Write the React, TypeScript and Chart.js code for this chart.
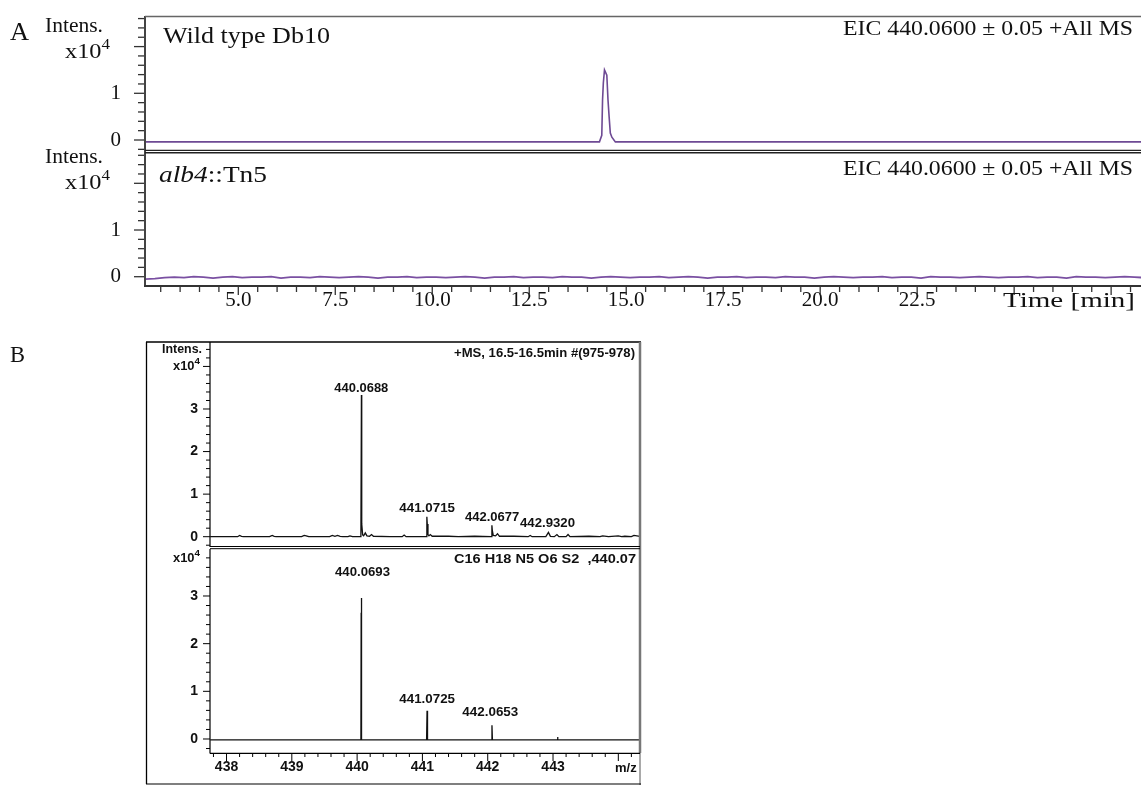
import React, { useEffect, useRef } from 'react';
import { Chart, registerables } from 'chart.js';
Chart.register(...registerables);

// ---------------- Data ----------------
// Panel A, top: EIC of wild type Db10 (intensity x10^4 vs time, min)
const A_WT_TIME = [2.6, 14.31, 14.37, 14.39, 14.41, 14.44, 14.5, 14.53, 14.56, 14.59, 14.63, 14.72, 28.3];
const A_WT_INTENS = [-0.04, -0.04, 0.1, 0.86, 1.22, 1.5, 1.39, 0.86, 0.49, 0.15, 0.06, -0.04, -0.04];

// Panel A, bottom: EIC of alb4::Tn5 (flat noisy baseline), sampled every 0.25 min from 2.6 min
const A_MUT_START = 2.6;
const A_MUT_STEP = 0.25;
const A_MUT_INTENS = [
  -0.05, -0.04, -0.02, -0.01, -0.02, 0.0, -0.01, -0.03, -0.01, 0.0,
  -0.02, -0.01, -0.01, 0.0, -0.03, -0.01, -0.01, -0.02, 0.0, -0.01,
  -0.02, -0.01, 0.0, -0.01, -0.03, -0.01, -0.01, 0.0, -0.02, -0.01,
  -0.01, -0.02, -0.01, 0.0, -0.01, -0.03, -0.01, -0.01, 0.0, -0.02,
  -0.01, -0.01, -0.02, 0.0, -0.01, -0.01, -0.03, -0.01, 0.0, -0.01,
  -0.02, -0.01, -0.01, 0.0, -0.02, -0.01, 0.0, -0.01, -0.03, -0.01,
  -0.01, 0.0, -0.02, -0.01, -0.01, -0.02, 0.0, -0.01, -0.01, -0.03,
  -0.01, 0.0, -0.01, -0.02, -0.01, -0.01, 0.0, -0.02, -0.01, -0.01,
  -0.03, 0.0, -0.01, -0.01, -0.02, -0.01, 0.0, -0.01, -0.02, -0.01,
  -0.01, 0.0, -0.02, -0.01, -0.01, -0.03, 0.0, -0.01, -0.01, -0.02,
  -0.01, 0.0, -0.01, -0.02,
];

const A_TIME_TICKS = [5.0, 7.5, 10.0, 12.5, 15.0, 17.5, 20.0, 22.5];
const A_INTENS_TICKS = [0, 1];

// Panel B, top: measured MS spectrum (m/z, intensity x10^4)
const B_MS_MZ = [437.75, 438.17, 438.2, 438.23, 438.26, 438.66, 438.7, 438.73, 438.76, 439.15, 439.19, 439.22, 439.26, 439.58, 439.62, 439.66, 439.7, 439.74, 439.78, 439.86, 439.89, 439.93, 440.058, 440.066, 440.069, 440.072, 440.085, 440.1, 440.125, 440.15, 440.19, 440.22, 440.25, 440.5, 440.69, 440.72, 440.75, 441.058, 441.068, 441.074, 441.085, 441.1, 441.12, 441.15, 441.4, 441.55, 441.8, 442.055, 442.064, 442.07, 442.085, 442.12, 442.15, 442.18, 442.4, 442.62, 442.65, 442.68, 442.89, 442.93, 442.96, 443.02, 443.06, 443.09, 443.2, 443.23, 443.26, 443.55, 443.72, 443.76, 443.85, 444.0, 444.05, 444.1, 444.2, 444.24, 444.33];
const B_MS_INT = [0, 0, 0.03, 0.01, 0, 0, 0.03, 0.01, 0, 0, 0.03, 0.02, 0, 0, 0.03, 0.01, 0.03, 0.01, 0, 0, 0.02, 0, 0, 3.33, 1.9, 0.3, 0.04, 0.02, 0.09, 0.02, 0.01, 0.05, 0.01, 0, 0, 0.04, 0, 0, 0.47, 0.3, 0.05, 0.02, 0.05, 0.01, 0.01, 0, 0.01, 0, 0.27, 0.15, 0.03, 0.02, 0.07, 0.01, 0.01, 0, 0.03, 0, 0, 0.1, 0.01, 0, 0.05, 0, 0, 0.05, 0, 0.01, 0, 0.02, 0, 0.02, 0, 0.01, 0, 0.03, 0.01];

// Panel B, bottom: simulated isotope pattern C16H18N5O6S2
const B_SIM_MZ = [437.75, 440.058, 440.062, 440.064, 440.067, 440.071, 441.064, 441.071, 441.078, 442.058, 442.065, 442.072, 443.062, 443.069, 443.076, 444.33];
const B_SIM_INT = [-0.02, -0.02, 2.65, 0.3, 2.96, -0.02, -0.02, 0.59, -0.02, -0.02, 0.29, -0.02, -0.02, 0.04, -0.02, -0.02];

const B_MZ_TICKS = [438, 439, 440, 441, 442, 443];
const B_INTENS_TICKS = [0, 1, 2, 3];

// ---------------- Styling helpers ----------------
const SERIF = "'Liberation Serif', 'Times New Roman', serif";
const SANS = "'Liberation Sans', Arial, sans-serif";

type Seg = { t: string; font: string; dy?: number };
type TextItem = { x: number; y: number; segs: Seg[]; width?: number; color?: string };
type LineItem = { x1: number; y1: number; x2: number; y2: number; color: string; w: number };
type TickSpec = { axis: 'x' | 'y'; step: number; majorEvery: number; majorLen: number; minorLen: number; color: string; w: number };

function makeDeco(ox: number, oy: number, lines: LineItem[], texts: TextItem[], ticks: TickSpec[]) {
  return {
    id: 'deco',
    afterDraw(chart: any) {
      const ctx: CanvasRenderingContext2D = chart.ctx;
      const area = chart.chartArea;
      ctx.save();
      for (const t of ticks) {
        const scale = chart.scales[t.axis];
        const start = Math.ceil(scale.min / t.step - 1e-6);
        const end = Math.floor(scale.max / t.step + 1e-6);
        ctx.strokeStyle = t.color;
        ctx.lineWidth = t.w;
        for (let i = start; i <= end; i++) {
          const v = i * t.step;
          const major = i % t.majorEvery === 0;
          const len = major ? t.majorLen : t.minorLen;
          const p = scale.getPixelForValue(v);
          ctx.beginPath();
          if (t.axis === 'y') {
            ctx.moveTo(area.left - len, p);
            ctx.lineTo(area.left, p);
          } else {
            ctx.moveTo(p, area.bottom);
            ctx.lineTo(p, area.bottom + len);
          }
          ctx.stroke();
        }
      }
      for (const l of lines) {
        ctx.strokeStyle = l.color;
        ctx.lineWidth = l.w;
        ctx.beginPath();
        ctx.moveTo(l.x1 - ox, l.y1 - oy);
        ctx.lineTo(l.x2 - ox, l.y2 - oy);
        ctx.stroke();
      }
      for (const it of texts) {
        let total = 0;
        const ws = it.segs.map((s) => {
          ctx.font = s.font;
          const w = ctx.measureText(s.t).width;
          total += w;
          return w;
        });
        const sx = it.width ? it.width / total : 1;
        ctx.save();
        ctx.translate(it.x - ox, it.y - oy);
        ctx.scale(sx, 1);
        ctx.fillStyle = it.color || '#111';
        ctx.textBaseline = 'alphabetic';
        ctx.textAlign = 'left';
        let cx = 0;
        it.segs.forEach((s, i) => {
          ctx.font = s.font;
          ctx.fillText(s.t, cx, s.dy || 0);
          cx += ws[i];
        });
        ctx.restore();
      }
      ctx.restore();
    },
  };
}

function yScale(min: number, max: number, ticks: number[], font: any, padding: number, width: number) {
  return {
    type: 'linear',
    position: 'left',
    min,
    max,
    grid: { display: false, drawTicks: false },
    border: { display: false },
    ticks: { font, color: '#111', padding, autoSkip: false, callback: (v: any) => String(v) },
    afterBuildTicks: (s: any) => {
      s.ticks = ticks.map((v) => ({ value: v }));
    },
    afterFit: (s: any) => {
      s.width = width;
      s.paddingTop = 0;
      s.paddingBottom = 0;
      s.paddingLeft = 0;
      s.paddingRight = 0;
    },
  };
}

function xScale(min: number, max: number, ticks: number[], font: any, padding: number, height: number, show: boolean, fmt: (v: number) => string) {
  return {
    type: 'linear',
    position: 'bottom',
    display: show,
    min,
    max,
    grid: { display: false, drawTicks: false },
    border: { display: false },
    ticks: { font, color: '#111', padding, autoSkip: false, maxRotation: 0, minRotation: 0, callback: (v: any) => fmt(Number(v)) },
    afterBuildTicks: (s: any) => {
      s.ticks = ticks.map((v) => ({ value: v }));
    },
    afterFit: (s: any) => {
      s.height = height;
      s.paddingLeft = 0;
      s.paddingRight = 0;
      s.paddingTop = 0;
      s.paddingBottom = 0;
    },
  };
}

function lineDataset(xs: number[], ys: number[], color: string, w: number) {
  return {
    data: xs.map((x, i) => ({ x, y: ys[i] })),
    borderColor: color,
    borderWidth: w,
    pointRadius: 0,
    tension: 0,
    fill: false,
  };
}

const baseOptions = {
  animation: false,
  responsive: false,
  maintainAspectRatio: false,
  devicePixelRatio: 1,
  events: [],
  plugins: { legend: { display: false }, tooltip: { enabled: false } },
};

// A-axis ranges
const A_XMIN = 2.595;
const A_XMAX = 28.27;
const fontA = { family: SERIF, size: 21 };
const fontB = { family: SANS, size: 14, weight: 'bold' };

const aLabel = (y: number, x: number, t: string, size: number, width: number): TextItem => ({ x, y, segs: [{ t, font: `${size}px ${SERIF}` }], width });
const x104A = (y: number): TextItem => ({ x: 65, y, segs: [{ t: 'x10', font: `20px ${SERIF}` }, { t: '4', font: `14px ${SERIF}`, dy: -9 }], width: 45 });
const bLabel = (x: number, y: number, t: string, width: number): TextItem => ({ x, y, segs: [{ t, font: `bold 13.5px ${SANS}` }], width });
const x104B = (y: number): TextItem => ({ x: 173, y, segs: [{ t: 'x10', font: `bold 12.5px ${SANS}` }, { t: '4', font: `bold 9.5px ${SANS}`, dy: -6 }], width: 27 });

const tickAy: TickSpec = { axis: 'y', step: 0.2, majorEvery: 5, majorLen: 11, minorLen: 7, color: '#333', w: 1.3 };
const tickAx: TickSpec = { axis: 'x', step: 0.5, majorEvery: 5, majorLen: 9, minorLen: 6, color: '#333', w: 1.3 };
const tickBy: TickSpec = { axis: 'y', step: 0.2, majorEvery: 5, majorLen: 7, minorLen: 4, color: '#000', w: 1 };
const tickBx: TickSpec = { axis: 'x', step: 0.2, majorEvery: 5, majorLen: 8, minorLen: 4, color: '#000', w: 1 };

function cfgA1() {
  return {
    type: 'line',
    data: { datasets: [lineDataset(A_WT_TIME, A_WT_INTENS, '#6e4a94', 1.6)] },
    options: {
      ...baseOptions,
      layout: { padding: { top: 16, left: 0, right: 0, bottom: 0 } },
      scales: {
        x: xScale(A_XMIN, A_XMAX, A_TIME_TICKS, fontA, 2, 0, false, (v) => v.toFixed(1)),
        y: yScale(-0.2355, 2.655, A_INTENS_TICKS, fontA, 24, 145),
      },
    },
    plugins: [
      makeDeco(0, 0, [
        { x1: 145, y1: 16, x2: 145, y2: 151, color: '#444', w: 2 },
        { x1: 145, y1: 16.5, x2: 1141, y2: 16.5, color: '#666', w: 1.5 },
        { x1: 145, y1: 150.5, x2: 1141, y2: 150.5, color: '#222', w: 1.5 },
      ], [
        aLabel(40, 10, 'A', 25, 19),
        aLabel(31.5, 45, 'Intens.', 20, 58),
        x104A(58),
        aLabel(42.5, 163, 'Wild type Db10', 23, 167),
        aLabel(35, 843, 'EIC 440.0600 \u00b1 0.05 +All MS', 22, 290),
      ], [tickAy]),
    ],
  };
}

function cfgA2() {
  const times = A_MUT_INTENS.map((_, i) => A_MUT_START + i * A_MUT_STEP);
  return {
    type: 'line',
    data: { datasets: [lineDataset(times, A_MUT_INTENS, '#7a50a2', 1.8)] },
    options: {
      ...baseOptions,
      layout: { padding: { top: 13, left: 0, right: 0, bottom: 0 } },
      scales: {
        x: xScale(A_XMIN, A_XMAX, A_TIME_TICKS, fontA, 2, 35, true, (v) => v.toFixed(1)),
        y: yScale(-0.199, 2.649, A_INTENS_TICKS, fontA, 24, 145),
      },
    },
    plugins: [
      makeDeco(0, 140, [
        { x1: 145, y1: 151, x2: 145, y2: 286, color: '#444', w: 2 },
        { x1: 145, y1: 152.8, x2: 1141, y2: 152.8, color: '#222', w: 1.5 },
        { x1: 144, y1: 286, x2: 1141, y2: 286, color: '#333', w: 2 },
      ], [
        aLabel(163.3, 45, 'Intens.', 20, 58),
        x104A(189.3),
        { x: 159, y: 181.7, segs: [{ t: 'alb4', font: `italic 23px ${SERIF}` }, { t: '::Tn5', font: `23px ${SERIF}` }], width: 108 },
        aLabel(175, 843, 'EIC 440.0600 \u00b1 0.05 +All MS', 22, 290),
        aLabel(307, 1003, 'Time [min]', 22, 132),
      ], [tickAy, tickAx]),
    ],
  };
}

const B_XMIN = 437.747;
const B_XMAX = 444.332;

function cfgB1() {
  return {
    type: 'line',
    data: { datasets: [lineDataset(B_MS_MZ, B_MS_INT, '#111', 1.3)] },
    options: {
      ...baseOptions,
      layout: { padding: { top: 12, left: 0, right: 501, bottom: 0 } },
      scales: {
        x: xScale(B_XMIN, B_XMAX, B_MZ_TICKS, fontB, 6, 0, false, (v) => String(v)),
        y: yScale(-0.242, 4.574, B_INTENS_TICKS, fontB, 12, 210),
      },
    },
    plugins: [
      makeDeco(0, 330, [
        { x1: 146, y1: 342, x2: 641, y2: 342, color: '#000', w: 1.3 },
        { x1: 146.5, y1: 342, x2: 146.5, y2: 547, color: '#000', w: 1.3 },
        { x1: 640, y1: 342, x2: 640, y2: 547, color: '#777', w: 2.5 },
        { x1: 210, y1: 342, x2: 210, y2: 547, color: '#000', w: 1.2 },
        { x1: 210, y1: 546.5, x2: 640, y2: 546.5, color: '#000', w: 1 },
      ], [
        aLabel(362, 10, 'B', 24, 15),
        bLabel(162, 352.7, 'Intens.', 40),
        x104B(370),
        bLabel(454, 356.7, '+MS, 16.5-16.5min #(975-978)', 181),
        bLabel(334.3, 391.7, '440.0688', 54),
        bLabel(399.3, 511.7, '441.0715', 55.7),
        bLabel(465, 520.7, '442.0677', 54.3),
        bLabel(520, 527.3, '442.9320', 55),
      ], [tickBy]),
    ],
  };
}

function cfgB2() {
  return {
    type: 'line',
    data: { datasets: [lineDataset(B_SIM_MZ, B_SIM_INT, '#111', 1.3)] },
    options: {
      ...baseOptions,
      layout: { padding: { top: 2, left: 0, right: 501, bottom: 0 } },
      scales: {
        x: xScale(B_XMIN, B_XMAX, B_MZ_TICKS, fontB, 6, 32, true, (v) => String(v)),
        y: yScale(-0.294, 3.986, B_INTENS_TICKS, fontB, 12, 210),
      },
    },
    plugins: [
      makeDeco(0, 547, [
        { x1: 146.5, y1: 547, x2: 146.5, y2: 784, color: '#000', w: 1.3 },
        { x1: 640, y1: 547, x2: 640, y2: 753, color: '#777', w: 2.5 },
        { x1: 640, y1: 753, x2: 640, y2: 785, color: '#555', w: 1 },
        { x1: 146, y1: 784, x2: 641, y2: 784, color: '#000', w: 1.2 },
        { x1: 210, y1: 548.7, x2: 640, y2: 548.7, color: '#000', w: 1 },
        { x1: 210, y1: 549, x2: 210, y2: 753.5, color: '#000', w: 1.2 },
        { x1: 210, y1: 753.3, x2: 640, y2: 753.3, color: '#000', w: 1.2 },
      ], [
        x104B(561.7),
        bLabel(335, 576, '440.0693', 55),
        bLabel(454, 563.3, 'C16 H18 N5 O6 S2  ,440.07', 182),
        bLabel(399.3, 702.7, '441.0725', 55.7),
        bLabel(462.3, 716, '442.0653', 56),
        bLabel(615, 771.7, 'm/z', 21.7),
      ], [tickBy, tickBx]),
    ],
  };
}

const CANVASES = [
  { top: 0, height: 151, cfg: cfgA1 },
  { top: 140, height: 181, cfg: cfgA2 },
  { top: 330, height: 217, cfg: cfgB1 },
  { top: 547, height: 238, cfg: cfgB2 },
];

export default function App() {
  const refs = [useRef<HTMLCanvasElement>(null), useRef<HTMLCanvasElement>(null), useRef<HTMLCanvasElement>(null), useRef<HTMLCanvasElement>(null)];
  useEffect(() => {
    document.body.style.margin = '0';
    document.body.style.overflow = 'hidden';
    const charts = CANVASES.map((c, i) => new Chart(refs[i].current as HTMLCanvasElement, c.cfg() as any));
    return () => charts.forEach((ch) => ch.destroy());
  }, []);
  return (
    <div style={{ position: 'absolute', left: 0, top: 0, width: 1141, height: 785, background: '#fff', overflow: 'hidden' }}>
      {CANVASES.map((c, i) => (
        <canvas
          key={i}
          ref={refs[i]}
          width={1141}
          height={c.height}
          style={{ position: 'absolute', left: 0, top: c.top, width: 1141, height: c.height }}
        />
      ))}
    </div>
  );
}
